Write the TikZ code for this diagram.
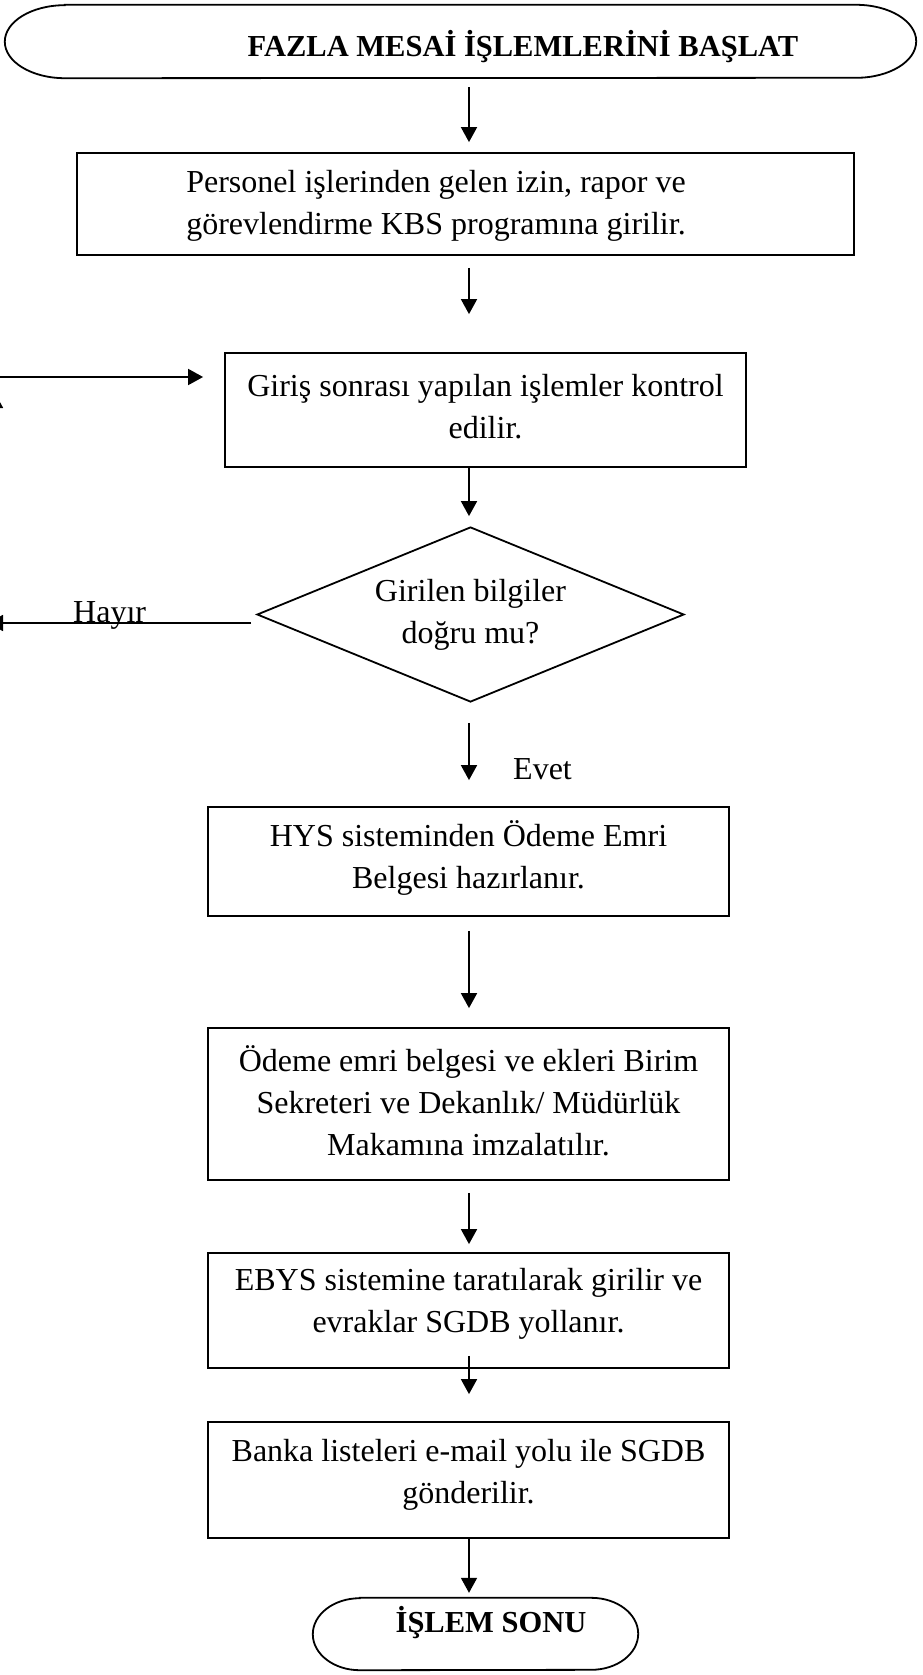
\documentclass[tikz,border=0pt]{standalone}
\usepackage{fontspec}
\setmainfont{Liberation Serif}
\usetikzlibrary{shapes.geometric,arrows.meta,positioning,calc}

\begin{document}
\begin{tikzpicture}[
    x=1pt, y=-1pt,
    every node/.style={font=\fontsize{32}{42}\selectfont, align=center},
    box/.style={rectangle, draw, line width=1.8pt, inner sep=0pt, minimum width=521},
    term/.style={rectangle, inner sep=0pt},
    ttl/.style={font=\fontsize{30.5}{40}\selectfont\bfseries, inner sep=0pt},
    decision/.style={diamond, draw, line width=1.8pt, aspect=2.44, inner sep=0pt,
        minimum width=427, minimum height=175},
    flow/.style={-{Triangle[length=15pt,width=16pt]}, line width=1.8pt},
    lbl/.style={inner sep=0pt}
]
\useasboundingbox (0,0) rectangle (923,1675);

\coordinate (col) at (469,0);

% start and end
\node[term, minimum width=911, minimum height=73] (start) at (460.5,41.5) {};
\draw[line width=1.8pt] ([xshift=60pt]start.north west) -- ([xshift=-60pt]start.north east)
    arc[start angle=-90, end angle=90, x radius=60, y radius=36.5]
    -- ([xshift=60pt]start.south west)
    arc[start angle=90, end angle=270, x radius=60, y radius=36.5] -- cycle;
\node[ttl, anchor=base] (title) at (523,57) {FAZLA MESAİ İŞLEMLERİNİ BAŞLAT};

\node[term, minimum width=325, minimum height=72] (end) at (475.5,1634) {};
\draw[line width=1.8pt] ([xshift=47pt]end.north west) -- ([xshift=-47pt]end.north east)
    arc[start angle=-90, end angle=90, x radius=47, y radius=36]
    -- ([xshift=47pt]end.south west)
    arc[start angle=90, end angle=270, x radius=47, y radius=36] -- cycle;
\node[ttl, anchor=base] (endt) at (491,1632) {İŞLEM SONU};

% steps
\node[box, minimum width=777, minimum height=102] (pers) at (465.5,204) {};
\node[lbl] (perst) at (436,206) {Personel işlerinden gelen izin, rapor ve\\görevlendirme KBS programına girilir.};
\node[box, minimum height=114] (chk) at (485.5,410) {};
\node[lbl] (chkt) at ([yshift=3pt]chk.center) {Giriş sonrası yapılan işlemler kontrol\\edilir.};
\node[decision] (dec) at (470.5,614.5) {Girilen bilgiler\\doğru mu?};
\node[box, minimum height=109] (hys) at (468.5,861.5) {};
\node[lbl] (hyst) at ([yshift=4pt]hys.center) {HYS sisteminden Ödeme Emri\\Belgesi hazırlanır.};
\node[box, minimum height=152] (imza) at (468.5,1104) {};
\node[lbl] (imzat) at ([yshift=3.5pt]imza.center) {Ödeme emri belgesi ve ekleri Birim\\Sekreteri ve Dekanlık/ Müdürlük\\Makamına imzalatılır.};
\node[box, minimum height=115] (ebys) at (468.5,1310.5) {};
\node[lbl] (ebyst) at ([yshift=6.5pt]ebys.center) {EBYS sistemine taratılarak girilir ve\\evraklar SGDB yollanır.};
\node[box, minimum height=116] (banka) at (468.5,1480) {};
\node[lbl] (bankat) at ([yshift=5pt]banka.center) {Banka listeleri e-mail yolu ile SGDB\\gönderilir.};

\node[lbl, anchor=base west] (evet) at (513,779) {Evet};
\node[lbl, anchor=base west] (hayir) at (73,622) {Hayır};

% loop back on the left edge
\coordinate (nol) at (-12,623);
\coordinate (nolb) at (-5,623);
\coordinate (nolt) at (-5,393);
\coordinate (nor) at (-5,377);

% arrows
\draw[flow, shorten <=9pt, shorten >=10pt] (start.south -| col) -- (pers.north -| col);
\draw[flow, shorten <=12pt, shorten >=38pt] (pers.south -| col) -- (chk.north -| col);
\draw[flow, shorten >=10pt] (chk.south -| col) -- (dec.north -| col);
\draw[flow, shorten <=20pt, shorten >=26pt] (dec.south -| col) -- (hys.north -| col);
\draw[flow, shorten <=14pt, shorten >=19pt] (hys.south -| col) -- (imza.north -| col);
\draw[flow, shorten <=12pt, shorten >=8pt] (imza.south -| col) -- (ebys.north -| col);
\draw[flow, shorten <=-13pt, shorten >=27pt] (ebys.south -| col) -- (banka.north -| col);
\draw[flow, shorten >=5pt] (banka.south -| col) -- (end.north -| col);

\draw[flow, shorten <=5pt] (dec.west |- nol) -- (nol);
\draw[flow] (nolb) -- (nolt);
\draw[flow, shorten >=21pt] (nor) -- (nor -| chk.west);

\end{tikzpicture}
\end{document}
